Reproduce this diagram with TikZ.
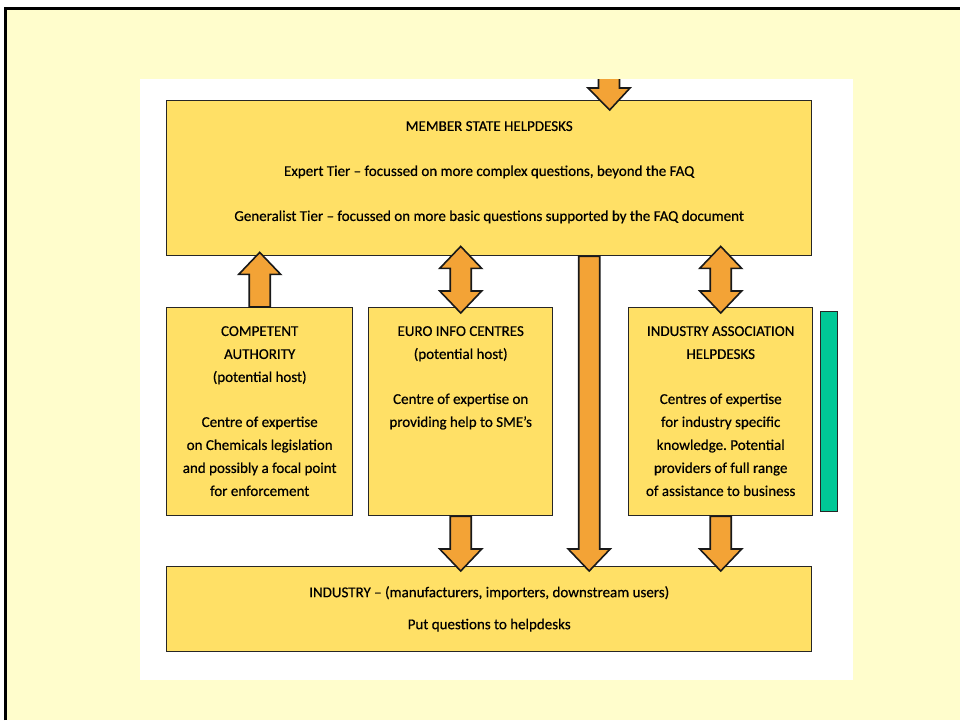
\documentclass[tikz,border=0pt]{standalone}
\usepackage{fontspec}
\setmainfont{Carlito}[FakeBold=0.5]
\frenchspacing
\usetikzlibrary{positioning,calc}
\definecolor{paper}{HTML}{FFFDCC}
\definecolor{boxfill}{HTML}{FFE066}
\definecolor{arrowfill}{HTML}{F3A336}
\definecolor{barfill}{HTML}{00C896}

\begin{document}
\begin{tikzpicture}[x=1pt, y=-1pt,
    box/.style={draw=black!85, line width=1.4pt, fill=boxfill, anchor=north west, inner sep=0pt},
    txt/.style={align=center, inner sep=0pt, font=\fontsize{15}{23}\selectfont},
    fat/.style={draw=black!90, line width=1.6pt, fill=arrowfill, line join=miter},
    onehead/.style={fat, to path={let \p1=(\tikztostart), \p2=(\tikztotarget),
        \n1={ifthenelse(\y2>\y1,1,-1)} in
        (\x1-10.5pt,\y1) -- (\x1-10.5pt,\y2-\n1*22pt) -- (\x1-21pt,\y2-\n1*22pt) -- (\x2,\y2)
        -- (\x1+21pt,\y2-\n1*22pt) -- (\x1+10.5pt,\y2-\n1*22pt) -- (\x1+10.5pt,\y1) -- cycle}},
    twohead/.style={fat, to path={let \p1=(\tikztostart), \p2=(\tikztotarget),
        \n1={ifthenelse(\y2>\y1,1,-1)} in
        (\x1,\y1) -- (\x1-21pt,\y1+\n1*22pt) -- (\x1-10.5pt,\y1+\n1*22pt)
        -- (\x1-10.5pt,\y2-\n1*22pt) -- (\x1-21pt,\y2-\n1*22pt) -- (\x2,\y2)
        -- (\x1+21pt,\y2-\n1*22pt) -- (\x1+10.5pt,\y2-\n1*22pt)
        -- (\x1+10.5pt,\y1+\n1*22pt) -- (\x1+21pt,\y1+\n1*22pt) -- cycle}}]

    % page and panel
    \useasboundingbox (0,0) rectangle (960,720);
    \fill[white] (0,0) rectangle (960,720);
    \fill[paper] (5,8.5) rectangle (960,720);
    \draw[line width=2.5pt] (5.5,720) -- (5.5,8.5) -- (960,8.5);
    \fill[white] (140,79) rectangle (853,680);

    % boxes
    \node[box, minimum width=645pt, minimum height=155pt] (msh) at (166,100) {};
    \node[box, minimum width=186pt, minimum height=208pt] (ca) at (166,307) {};
    \node[box, minimum width=184pt, minimum height=208pt] (eic) at (368,307) {};
    \node[box, minimum width=184pt, minimum height=208pt] (iah) at (628,307) {};
    \node[box, minimum width=645pt, minimum height=85pt] (ind) at (166,566) {};
    \node[box, fill=barfill, line width=1pt, minimum width=16.5pt, minimum height=200pt] (bar) at (820,311) {};

    % texts
    \node[txt, below=21pt of msh.north] (mshtxt) {MEMBER STATE HELPDESKS\\[22pt]
        Expert Tier – focussed on more complex questions, beyond the FAQ\\[22pt]
        Generalist Tier – focussed on more basic questions supported by the FAQ document};
    \node[txt, below=19pt of ca.north] (catxt) {COMPETENT\\AUTHORITY\\(potential host)\\[22pt]
        Centre of expertise\\on Chemicals legislation\\and possibly a focal point\\for enforcement};
    \node[txt, below=19pt of eic.north] (eictxt) {EURO INFO CENTRES\\(potential host)\\[22pt]
        Centre of expertise on\\providing help to SME’s};
    \node[txt, below=19pt of iah.north] (iahtxt) {INDUSTRY ASSOCIATION\\HELPDESKS\\[22pt]
        Centres of expertise\\for industry specific\\knowledge. Potential\\providers of full range\\of assistance to business};
    \node[txt, below=20pt of ind.north] (indtxt) {INDUSTRY – (manufacturers, importers, downstream users)\\[9pt]
        Put questions to helpdesks};

    % arrows
    \coordinate (feed) at (609,72);
    \begin{scope}
        \clip (140,79) rectangle (853,680);
        \draw[onehead] (feed) to ($(msh.north)+(120.5,10)$);
    \end{scope}
    \draw[onehead] (ca.north) to ($(ca.north |- msh.south)+(0,-4)$);
    \draw[twohead] ($(eic.north)+(0,6)$) to ($(eic.north |- msh.south)+(0,-10)$);
    \draw[twohead] ($(iah.north)+(0,6)$) to ($(iah.north |- msh.south)+(0,-10)$);
    \draw[onehead] ($(msh.south)+(100,0)$) to ($(ind.north)+(100,5)$);
    \draw[onehead] (eic.south) to ($(eic.south |- ind.north)+(0,5)$);
    \draw[onehead] (iah.south) to ($(iah.south |- ind.north)+(0,5)$);
\end{tikzpicture}
\end{document}
